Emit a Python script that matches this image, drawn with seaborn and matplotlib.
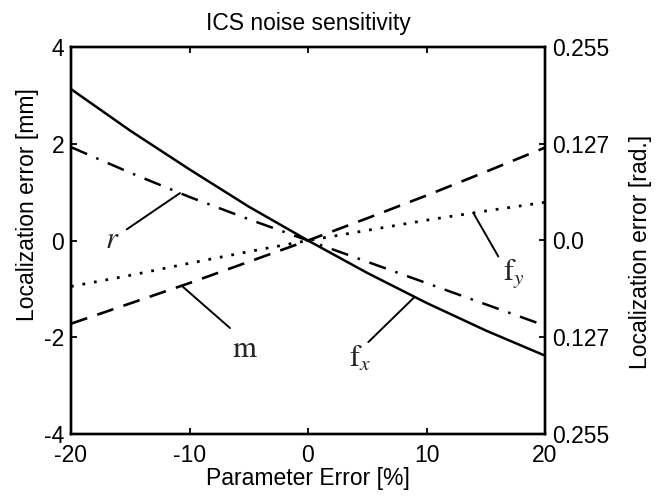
import numpy as np
import matplotlib
matplotlib.use("Agg")
import matplotlib.pyplot as plt
import seaborn as sns

# Parameter error (%) and the resulting localization error for each parameter
pct = [-20, -15, -10, -5, 0, 5, 10, 15, 20]
err_fx = [3.13, 2.27, 1.47, 0.70, 0.0, -0.67, -1.29, -1.86, -2.38]
err_r = [1.93, 1.40, 0.90, 0.44, 0.0, -0.44, -0.88, -1.32, -1.76]
err_fy = [-0.95, -0.72, -0.47, -0.23, 0.0, 0.21, 0.42, 0.61, 0.79]
err_m = [-1.72, -1.30, -0.88, -0.44, 0.0, 0.46, 0.93, 1.42, 1.92]

x_ticks = [-20, -10, 0, 10, 20]
mm_ticks = [-4, -2, 0, 2, 4]
rad_tick_labels = ["0.255", "0.127", "0.0", "0.127", "0.255"]

sns.set_theme(style="ticks")
plt.rcParams["font.family"] = ["Liberation Sans", "DejaVu Sans"]
plt.rcParams["mathtext.fontset"] = "stix"
plt.rcParams["axes.unicode_minus"] = False

ink = "black"
fs = 16.5

fig = plt.figure(figsize=(6.64, 4.97), dpi=100)
ax = fig.add_axes([71 / 664, 1 - 434 / 497, 474 / 664, 387 / 497])

curves = [
    (err_fx, "-", 1.8),
    (err_r, (0, (7, 4, 1, 4)), 1.8),
    (err_fy, (0, (1, 3.2)), 2.0),
    (err_m, (0, (6.5, 4)), 1.9),
]
for vals, ls, lw in curves:
    sns.lineplot(x=pct, y=vals, ax=ax, color=ink, linestyle=ls,
                 linewidth=lw, errorbar=None, legend=False)

ax.set_xlim(-20, 20)
ax.set_ylim(-4, 4)
ax.set_xticks(x_ticks)
ax.set_yticks(mm_ticks)
ax.tick_params(direction="in", length=4, width=1.3, labelsize=fs, pad=5,
               top=True, colors=ink)
ax.tick_params(axis="x", pad=7.5)
for s in ax.spines.values():
    s.set_linewidth(1.7)
    s.set_color(ink)

ax2 = ax.twinx()
ax2.set_ylim(-4, 4)
ax2.set_yticks(mm_ticks)
ax2.set_yticklabels(rad_tick_labels)
ax2.tick_params(direction="in", length=4, width=1.3, labelsize=fs, pad=5,
                colors=ink)
for s in ax2.spines.values():
    s.set_linewidth(1.7)
    s.set_color(ink)

ax.set_title("ICS noise sensitivity", fontsize=fs, pad=12, color=ink)
ax.set_xlabel("Parameter Error [%]", fontsize=fs, labelpad=0, color=ink)
ax.set_ylabel("Localization error [mm]", fontsize=fs, color=ink)
ax.yaxis.set_label_coords(-0.0928, 0.5917)
ax.yaxis.label.set_verticalalignment("center")
ax2.set_ylabel("Localization error [rad.]", fontsize=fs, color=ink)
ax2.yaxis.set_label_coords(1.2025, 0.4703)
ax2.yaxis.label.set_verticalalignment("center")


def on_curve(x, vals):
    return float(np.interp(x, pct, vals))


# leader lines from each curve label to its curve
leaders = [
    (err_r, -15.3, 0.23, -10.8),
    (err_m, -6.58, -1.81, -10.66),
    (err_fx, 5.09, -2.10, 9.0),
    (err_fy, 16.06, -0.33, 13.95),
]
for vals, x0, y0, x1 in leaders:
    ax.annotate("", xy=(x1, on_curve(x1, vals)), xytext=(x0, y0),
                arrowprops=dict(arrowstyle="-", lw=1.4, color=ink,
                                shrinkA=0, shrinkB=0))

lab_fs = 22
ax.text(-16.54, -0.145, r"$r$", fontsize=lab_fs, ha="center", va="baseline")
ax.text(-5.3, -2.40, r"$\mathrm{m}$", fontsize=lab_fs, ha="center", va="baseline")
ax.text(4.4, -2.61, r"$\mathrm{f}_x$", fontsize=lab_fs, ha="center", va="baseline")
ax.text(17.4, -0.81, r"$\mathrm{f}_y$", fontsize=lab_fs, ha="center", va="baseline")

fig.savefig("out.png", dpi=100)
